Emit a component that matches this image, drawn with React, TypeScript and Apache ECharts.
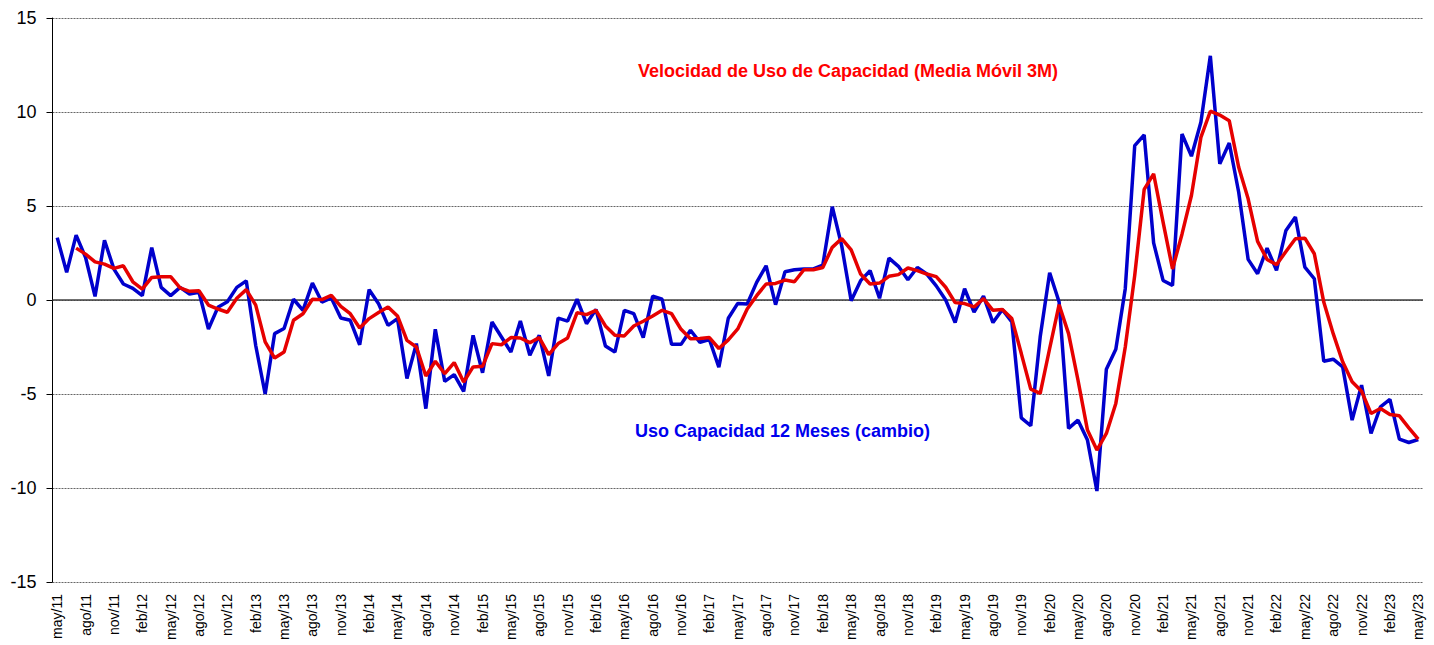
import React, { useEffect, useRef } from "react";
import * as echarts from "echarts";

const monthNames = ["ene", "feb", "mar", "abr", "may", "jun", "jul", "ago", "sep", "oct", "nov", "dic"];
const startYear = 2011;
const startMonth = 4; // may
const nPoints = 145;
const categories: string[] = [];
for (let k = 0; k < nPoints; k++) {
  const m = (startMonth + k) % 12;
  const y = startYear + Math.floor((startMonth + k) / 12);
  categories.push(`${monthNames[m]}/${String(y % 100).padStart(2, "0")}`);
}

const yTicks = [-15, -10, -5, 0, 5, 10, 15];

const usoCapacidad12M: number[] = [
  3.32, 1.47, 3.45, 2.26, 0.19, 3.18, 1.64, 0.85, 0.62, 0.23,
  2.79, 0.67, 0.23, 0.67, 0.32, 0.41, -1.54, -0.39, -0.09, 0.67,
  1.02, -2.42, -5.0, -1.79, -1.52, 0.04, -0.55, 0.9, -0.11, 0.11,
  -0.96, -1.08, -2.38, 0.55, -0.2, -1.35, -0.99, -4.18, -2.32, -5.78,
  -1.56, -4.33, -3.97, -4.86, -1.88, -3.87, -1.17, -1.97, -2.77, -1.12,
  -2.94, -1.88, -4.04, -0.96, -1.12, 0.04, -1.26, -0.5, -2.45, -2.77,
  -0.55, -0.73, -2.0, 0.2, 0.04, -2.36, -2.36, -1.61, -2.25, -2.1,
  -3.57, -0.97, -0.18, -0.21, 0.94, 1.82, -0.25, 1.5, 1.61, 1.65,
  1.65, 1.86, 4.96, 2.88, -0.04, 1.03, 1.56, 0.09, 2.23, 1.79,
  1.08, 1.73, 1.38, 0.75, 0.0, -1.2, 0.6, -0.64, 0.21, -1.2,
  -0.51, -1.17, -6.27, -6.69, -1.96, 1.45, -0.11, -6.83, -6.39, -7.45,
  -10.16, -3.68, -2.62, 0.6, 8.21, 8.78, 3.04, 1.04, 0.78, 8.83,
  7.65, 9.45, 12.99, 7.24, 8.35, 5.73, 2.16, 1.4, 2.76, 1.58,
  3.7, 4.41, 1.75, 1.13, -3.26, -3.15, -3.56, -6.39, -4.53, -7.1,
  -5.68, -5.29, -7.4, -7.58, -7.42,
];

const velocidadMM3: (number | null)[] = [
  null, null, 2.76, 2.44, 2.03, 1.91, 1.68, 1.82, 0.97, 0.58,
  1.2, 1.24, 1.24, 0.64, 0.46, 0.49, -0.27, -0.48, -0.65, 0.09,
  0.55, -0.27, -2.23, -3.09, -2.77, -1.08, -0.73, 0.04, 0.02, 0.25,
  -0.34, -0.73, -1.49, -0.99, -0.67, -0.37, -0.85, -2.15, -2.5, -4.04,
  -3.26, -3.92, -3.33, -4.36, -3.56, -3.53, -2.32, -2.38, -2.0, -2.02,
  -2.27, -2.0, -2.91, -2.32, -2.02, -0.67, -0.78, -0.55, -1.38, -1.88,
  -1.91, -1.38, -1.13, -0.85, -0.55, -0.73, -1.56, -2.06, -2.05, -2.0,
  -2.58, -2.12, -1.54, -0.48, 0.23, 0.85, 0.88, 1.06, 0.97, 1.61,
  1.61, 1.73, 2.8, 3.27, 2.67, 1.38, 0.85, 0.9, 1.26, 1.35,
  1.7, 1.56, 1.38, 1.24, 0.68, -0.14, -0.19, -0.37, 0.07, -0.55,
  -0.51, -0.99, -2.85, -4.74, -4.97, -2.58, -0.25, -1.79, -4.27, -6.92,
  -7.98, -7.1, -5.5, -2.5, 1.31, 5.88, 6.71, 4.14, 1.65, 3.5,
  5.56, 8.65, 10.04, 9.84, 9.54, 7.06, 5.38, 3.12, 2.16, 1.88,
  2.58, 3.26, 3.29, 2.46, -0.11, -1.79, -3.29, -4.35, -4.85, -6.04,
  -5.77, -6.09, -6.16, -6.8, -7.4,
];

const labelVelocidad = "Velocidad de Uso de Capacidad (Media Móvil 3M)";
const labelUso = "Uso Capacidad 12 Meses (cambio)";

const FONT = 'Arial, "Liberation Sans", sans-serif';

export default function App() {
  const ref = useRef<HTMLDivElement>(null);
  useEffect(() => {
    if (!ref.current) return;
    const chart = echarts.init(ref.current, null, { renderer: "svg" });
    chart.setOption({
      animation: false,
      backgroundColor: "#ffffff",
      textStyle: { fontFamily: FONT },
      grid: { left: 52.5, right: 11, top: 18, bottom: 63, containLabel: false },
      xAxis: {
        type: "category",
        data: categories,
        boundaryGap: true,
        axisLine: { show: false },
        axisTick: { show: false },
        axisLabel: {
          interval: 2,
          rotate: 90,
          fontSize: 14,
          color: "#000",
          fontFamily: FONT,
          margin: 12,
        },
        splitLine: { show: false },
      },
      yAxis: {
        type: "value",
        min: yTicks[0],
        max: yTicks[yTicks.length - 1],
        interval: 5,
        axisLine: { show: true, onZero: false, lineStyle: { color: "#000", width: 1 } },
        axisTick: { show: true, inside: false, length: 6, lineStyle: { color: "#000" } },
        axisLabel: { fontSize: 18, color: "#000", fontFamily: FONT, margin: 16 },
        splitLine: { show: true, lineStyle: { type: [2, 1], color: "#666", width: 1 } },
      },
      series: [
        {
          name: labelUso,
          type: "line",
          data: usoCapacidad12M,
          symbol: "none",
          lineStyle: { color: "#0000CC", width: 3.5 },
          itemStyle: { color: "#0000CC" },
          z: 2,
          markLine: {
            silent: true,
            symbol: "none",
            label: { show: false },
            lineStyle: { color: "#404040", width: 1.5, type: "solid" },
            data: [{ yAxis: 0 }],
            z: 1,
          },
        },
        {
          name: labelVelocidad,
          type: "line",
          data: velocidadMM3,
          symbol: "none",
          connectNulls: false,
          lineStyle: { color: "#E60000", width: 3.5 },
          itemStyle: { color: "#E60000" },
          z: 3,
        },
      ],
      graphic: [
        {
          type: "text",
          left: 638,
          top: 62,
          style: {
            text: labelVelocidad,
            fill: "#FF0000",
            font: `bold 18px ${FONT}`,
          },
        },
        {
          type: "text",
          left: 635,
          top: 422,
          style: {
            text: labelUso,
            fill: "#0000EE",
            font: `bold 18px ${FONT}`,
          },
        },
      ],
    });
    return () => chart.dispose();
  }, []);
  return (
    <div
      ref={ref}
      style={{ position: "fixed", left: 0, top: 0, width: 1434, height: 645, background: "#fff" }}
    />
  );
}
